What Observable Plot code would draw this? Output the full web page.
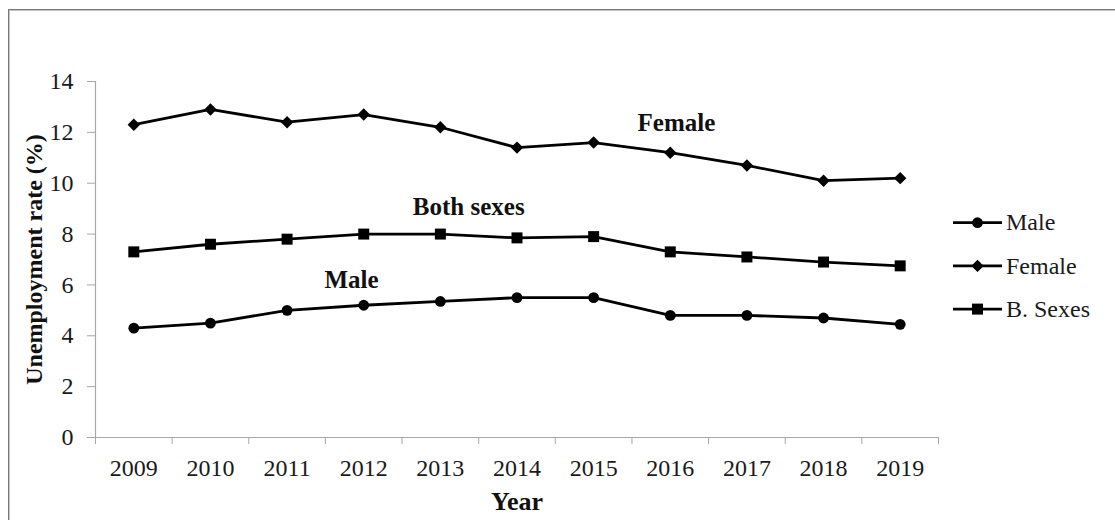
<!DOCTYPE html>
<html>
<head>
<meta charset="utf-8">
<script src="https://cdn.jsdelivr.net/npm/d3@7"></script>
<script src="https://cdn.jsdelivr.net/npm/@observablehq/plot@0.6"></script>
<style>
  html, body { margin: 0; padding: 0; background: #fff; }
  #wrap { position: relative; width: 1115px; height: 520px; overflow: hidden; }
  #frame { position: absolute; left: 8px; top: 9px; width: 1300px; height: 700px; border-top: 1px solid #7a7a7a; border-left: 1px solid #7a7a7a; box-shadow: inset 1px 1px 0 #c4c4c4; }
  #chart { position: absolute; left: 0; top: 0; }
  #legend { position: absolute; left: 953px; top: 200px; }
</style>
</head>
<body>
<div id="wrap">
  <div id="frame"></div>
  <div id="chart"></div>
  <div id="legend"></div>
</div>
<script>
const years = [2009, 2010, 2011, 2012, 2013, 2014, 2015, 2016, 2017, 2018, 2019];
const male = [4.3, 4.5, 5.0, 5.2, 5.35, 5.5, 5.5, 4.8, 4.8, 4.7, 4.45];
const female = [12.3, 12.9, 12.4, 12.7, 12.2, 11.4, 11.6, 11.2, 10.7, 10.1, 10.2];
const bothSexes = [7.3, 7.6, 7.8, 8.0, 8.0, 7.85, 7.9, 7.3, 7.1, 6.9, 6.75];
const seriesNames = ["Male", "Female", "B. Sexes"];
const yTicks = [0, 2, 4, 6, 8, 10, 12, 14];
const yLabel = "Unemployment rate (%)";
const xLabel = "Year";

const seriesValues = [male, female, bothSexes];
const data = [];
seriesNames.forEach((s, si) => years.forEach((yr, i) => data.push({series: s, year: yr, value: seriesValues[si][i]})));

const boundaries = years.map(y => y - 0.5).concat([years[years.length - 1] + 0.5]);
const symbols = ["circle", "diamond2", "square"];
const radius = {"Male": 5.4, "Female": 5.6, "B. Sexes": 6.2};
const axisGray = "#a8a8a8";
const serif = "'Liberation Serif', 'Times New Roman', serif";

const chart = Plot.plot({
  width: 1115,
  height: 520,
  marginLeft: 95,
  marginRight: 177,
  marginTop: 81,
  marginBottom: 83,
  style: {fontFamily: serif, fontSize: "24px", background: "transparent", color: "#1a1a1a"},
  x: {type: "linear", domain: [boundaries[0], boundaries[boundaries.length - 1]]},
  y: {domain: [0, 14]},
  symbol: {domain: seriesNames, range: symbols},
  marks: [
    Plot.ruleY([0], {stroke: axisGray, strokeWidth: 1.2}),
    Plot.ruleX([boundaries[0]], {stroke: axisGray, strokeWidth: 1.2}),
    Plot.axisY({ticks: yTicks, tickSize: 8, tickPadding: 14, stroke: axisGray, fill: "#1a1a1a", label: null, tickFormat: d => String(d), fontSize: 24, fontFamily: serif}),
    Plot.axisX({ticks: boundaries, tickSize: 7, tickFormat: () => "", stroke: axisGray, label: null}),
    Plot.axisX({ticks: years, tickSize: 0, tickPadding: 21, tickFormat: d => String(d), fill: "#1a1a1a", label: null, fontSize: 24, fontFamily: serif}),
    Plot.line(data, {x: "year", y: "value", z: "series", stroke: "black", strokeWidth: 2.8}),
    ...seriesNames.map(s => Plot.dot(data.filter(d => d.series === s), {x: "year", y: "value", symbol: "series", fill: "black", stroke: "none", r: radius[s]})),
    Plot.text(["Female"], {x: 2016.08, y: 12.38, fontWeight: "bold", fontSize: 25, fill: "#111", fontFamily: serif}),
    Plot.text(["Both sexes"], {x: 2013.37, y: 9.07, fontWeight: "bold", fontSize: 25, fill: "#111", fontFamily: serif}),
    Plot.text(["Male"], {x: 2011.84, y: 6.19, fontWeight: "bold", fontSize: 25, fill: "#111", fontFamily: serif}),
    Plot.text([yLabel], {frameAnchor: "left", textAnchor: "middle", lineAnchor: "middle", rotate: -90, dx: -61, fontWeight: "bold", fontSize: 24, fill: "#111", fontFamily: serif}),
    Plot.text([xLabel], {frameAnchor: "bottom", textAnchor: "middle", lineAnchor: "middle", dy: 64, fontWeight: "bold", fontSize: 26, fill: "#111", fontFamily: serif})
  ]
});
document.getElementById("chart").appendChild(chart);

// Legend (SVG)
const symMap = {circle: d3.symbolCircle, diamond2: d3.symbolDiamond2, square: d3.symbolSquare};
const rowH = 43.2;
const lsvg = d3.create("svg").attr("width", 160).attr("height", rowH * seriesNames.length + 10)
  .style("font-family", serif).style("font-size", "24px").style("overflow", "visible");
seriesNames.forEach((s, i) => {
  const g = lsvg.append("g").attr("transform", `translate(0,${22.7 + i * rowH})`);
  g.append("line").attr("x1", 0).attr("x2", 49).attr("y1", 0).attr("y2", 0).attr("stroke", "black").attr("stroke-width", 2.8);
  const r = radius[s];
  g.append("path").attr("transform", "translate(24.5,0)").attr("d", d3.symbol(symMap[symbols[i]], Math.PI * r * r)()).attr("fill", "black");
  g.append("text").attr("x", 53).attr("y", 0).attr("dy", "0.32em").attr("fill", "#1a1a1a").text(s);
});
document.getElementById("legend").appendChild(lsvg.node());
</script>
</body>
</html>
